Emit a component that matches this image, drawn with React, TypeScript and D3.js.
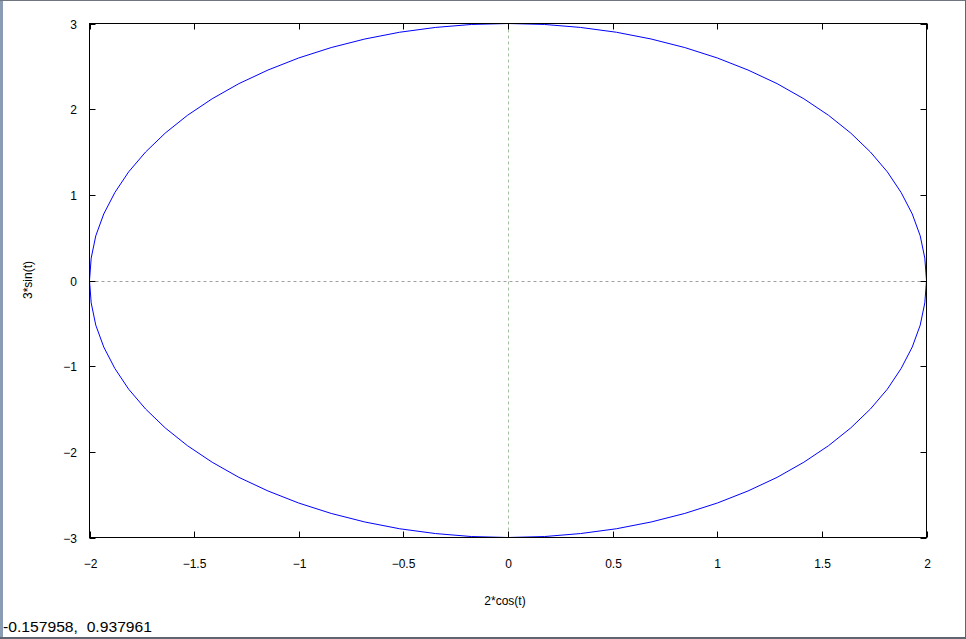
import React from "react";
import * as d3 from "d3";

// Parametric curve samples: (2*cos(t), 3*sin(t))
const xValues: number[] = [
  2, 1.992, 1.97, 1.932, 1.879, 1.813, 1.732, 1.638, 1.532, 1.414, 1.286, 1.147, 1.0, 0.845, 0.684, 0.518, 0.347, 0.174, 0,
  -0.174, -0.347, -0.518, -0.684, -0.845, -1.0, -1.147, -1.286, -1.414, -1.532, -1.638, -1.732, -1.813, -1.879, -1.932, -1.97, -1.992, -2,
  -1.992, -1.97, -1.932, -1.879, -1.813, -1.732, -1.638, -1.532, -1.414, -1.286, -1.147, -1.0, -0.845, -0.684, -0.518, -0.347, -0.174, 0,
  0.174, 0.347, 0.518, 0.684, 0.845, 1.0, 1.147, 1.286, 1.414, 1.532, 1.638, 1.732, 1.813, 1.879, 1.932, 1.97, 1.992, 2,
];
const yValues: number[] = [
  0, 0.261, 0.521, 0.776, 1.026, 1.268, 1.5, 1.721, 1.928, 2.121, 2.298, 2.457, 2.598, 2.719, 2.819, 2.898, 2.954, 2.989, 3,
  2.989, 2.954, 2.898, 2.819, 2.719, 2.598, 2.457, 2.298, 2.121, 1.928, 1.721, 1.5, 1.268, 1.026, 0.776, 0.521, 0.261, 0,
  -0.261, -0.521, -0.776, -1.026, -1.268, -1.5, -1.721, -1.928, -2.121, -2.298, -2.457, -2.598, -2.719, -2.819, -2.898, -2.954, -2.989, -3,
  -2.989, -2.954, -2.898, -2.819, -2.719, -2.598, -2.457, -2.298, -2.121, -1.928, -1.721, -1.5, -1.268, -1.026, -0.776, -0.521, -0.261, 0,
];

const xTicks: number[] = [-2, -1.5, -1, -0.5, 0, 0.5, 1, 1.5, 2];
const xTickLabels: string[] = ["\u22122", "\u22121.5", "\u22121", "\u22120.5", "0", "0.5", "1", "1.5", "2"];
const yTicks: number[] = [-3, -2, -1, 0, 1, 2, 3];
const yTickLabels: string[] = ["\u22123", "\u22122", "\u22121", "0", "1", "2", "3"];

const xLabel = "2*cos(t)";
const yLabel = "3*sin(t)";
const statusText = "-0.157958,  0.937961";

const W = 966;
const H = 639;
const FONT = "'Liberation Sans', Arial, sans-serif";

export default function App() {
  const x = d3.scaleLinear().domain([-2, 2]).range([89.5, 926.5]);
  const y = d3.scaleLinear().domain([-3, 3]).range([537.5, 23.5]);
  const pts: [number, number][] = xValues.map((v, i) => [v, yValues[i]]);
  const line = d3
    .line<[number, number]>()
    .x((d) => x(d[0]))
    .y((d) => y(d[1]));
  const tickLen = 6;
  const [x0, x1] = x.range();
  const [y0, y1] = y.range();

  return (
    <svg
      width={W}
      height={H}
      style={{ position: "absolute", left: 0, top: 0, background: "#fff" }}
      fontFamily={FONT}
    >
      <rect x={0} y={0} width={W} height={H} fill="#fff" />
      {/* window border */}
      <rect x={0} y={0} width={3} height={H} fill="#8a9cb4" />
      <rect x={0} y={0} width={W} height={1} fill="#6f7680" />
      <rect x={W - 1} y={0} width={1} height={H} fill="#5f6670" />
      <rect x={0} y={H - 2} width={W} height={2} fill="#5f6670" />

      <defs>
        <clipPath id="plotclip">
          <rect x={x0} y={y1} width={x1 - x0} height={y0 - y1} />
        </clipPath>
      </defs>

      {/* zero axes */}
      <line x1={x0} x2={x1} y1={Math.round(y(0)) + 0.5} y2={Math.round(y(0)) + 0.5} stroke="#a0a0a0" strokeWidth={1} strokeDasharray="3,3" />
      <line x1={Math.round(x(0)) + 0.5} x2={Math.round(x(0)) + 0.5} y1={y1} y2={y0} stroke="#a0c0a0" strokeWidth={1} strokeDasharray="3,3" />

      {/* curve */}
      <path d={line(pts) || ""} fill="none" stroke="#0000ff" strokeWidth={1} clipPath="url(#plotclip)" />

      {/* frame */}
      <rect x={x0} y={y1} width={x1 - x0} height={y0 - y1} fill="none" stroke="#000" strokeWidth={1} />

      {/* x ticks */}
      {xTicks.map((t, i) => {
        const px = Math.round(x(t)) + 0.5;
        return (
          <g key={"xt" + i}>
            <line x1={px} x2={px} y1={y0} y2={y0 - tickLen} stroke="#000" />
            <line x1={px} x2={px} y1={y1} y2={y1 + tickLen} stroke="#000" />
            <text x={px} y={568} fontSize={12} textAnchor="middle" fill="#000">
              {xTickLabels[i]}
            </text>
          </g>
        );
      })}

      {/* y ticks */}
      {yTicks.map((t, i) => {
        const py = Math.round(y(t)) + 0.5;
        return (
          <g key={"yt" + i}>
            <line x1={x0} x2={x0 + tickLen} y1={py} y2={py} stroke="#000" />
            <line x1={x1} x2={x1 - tickLen} y1={py} y2={py} stroke="#000" />
            <text x={77} y={py + 4.5} fontSize={12} textAnchor="end" fill="#000">
              {yTickLabels[i]}
            </text>
          </g>
        );
      })}

      {/* axis labels */}
      <text x={505} y={605} fontSize={12} textAnchor="middle" fill="#000">
        {xLabel}
      </text>
      <text
        transform="translate(32,280) rotate(-90)"
        fontSize={12}
        textAnchor="middle"
        fill="#000"
      >
        {yLabel}
      </text>

      {/* status line */}
      <text x={3} y={632} fontSize={15} fill="#000" textLength={149} lengthAdjust="spacingAndGlyphs" style={{ whiteSpace: "pre" }}>
        {statusText}
      </text>
    </svg>
  );
}
